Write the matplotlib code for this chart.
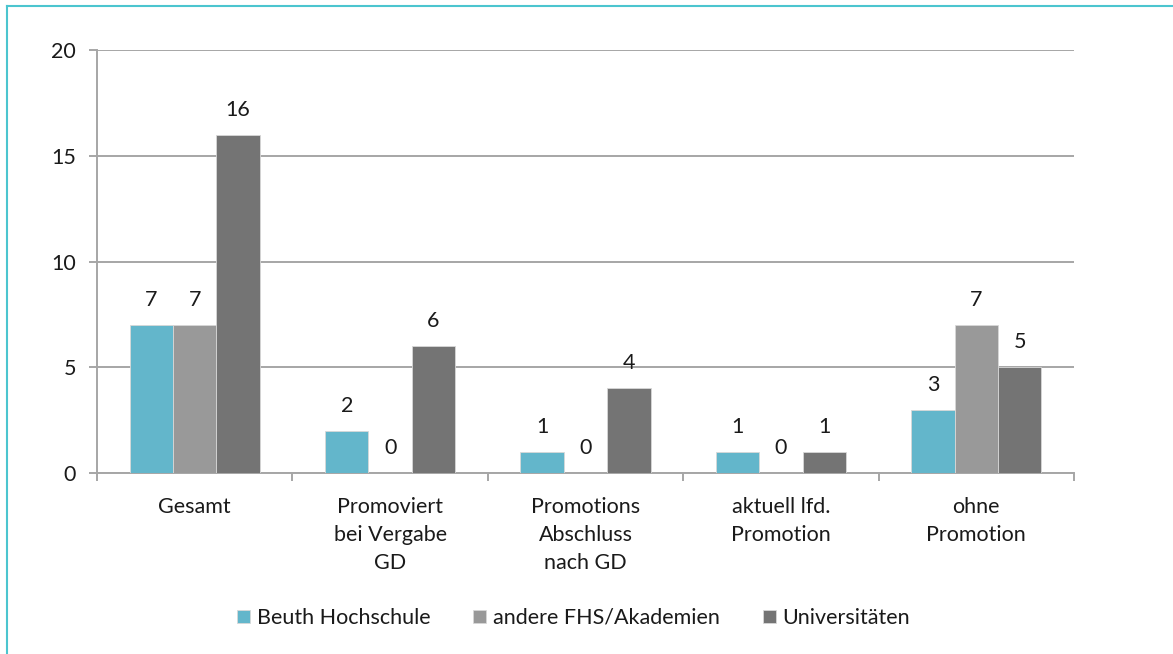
import numpy as np
import matplotlib.pyplot as plt
from matplotlib.lines import Line2D

# data
categories = ['Gesamt', 'Promoviert\nbei Vergabe\nGD', 'Promotions\nAbschluss\nnach GD',
              'aktuell lfd.\nPromotion', 'ohne\nPromotion']
series = ['Beuth Hochschule', 'andere FHS/Akademien', 'Universitäten']
beuth = [7, 2, 1, 1, 3]
andere = [7, 0, 0, 0, 7]
unis = [16, 6, 4, 1, 5]
colors = ['#63b6cb', '#999999', '#747474']

plt.rcParams['font.family'] = ['Lato', 'DejaVu Sans']
fs = 15.5

fig = plt.figure(figsize=(11.73, 6.54), dpi=100)
ax = fig.add_axes([97 / 1173, 1 - 473 / 654, (1074 - 97) / 1173, (473 - 50) / 654])

x = np.arange(len(categories))
w = 0.222
for i, (vals, name, c) in enumerate(zip([beuth, andere, unis], series, colors)):
    pos = x + (i - 1) * w
    ax.bar(pos, vals, width=w, color=c, edgecolor='#d8d8d8', linewidth=0.6, label=name, zorder=3)
    for px, v in zip(pos, vals):
        ax.annotate(str(v), (px, v), xytext=(0, 18), textcoords='offset points',
                    ha='center', va='center', fontsize=fs, color='#1a1a1a')

ax.set_xlim(-0.5, len(categories) - 0.5)
ax.set_ylim(0, 20)
ax.set_yticks([0, 5, 10, 15, 20])
ax.yaxis.grid(True, color='#a6a6a6', linewidth=1.4, zorder=0)
ax.set_axisbelow(True)

for s in ['top', 'right']:
    ax.spines[s].set_visible(False)
ax.spines['left'].set_color('#a6a6a6')
ax.spines['bottom'].set_color('#a6a6a6')
ax.spines['left'].set_linewidth(1.4)
ax.spines['bottom'].set_linewidth(1.4)

ax.set_xticks(x)
ax.set_xticklabels(categories, fontsize=fs, color='#1a1a1a', linespacing=1.5)
ax.tick_params(axis='x', length=0, pad=17)
ax.set_xticks(np.arange(-0.5, len(categories)), minor=True)
ax.tick_params(axis='x', which='minor', length=6, width=1.4, color='#a6a6a6')
ax.tick_params(axis='y', length=6, width=1.4, color='#a6a6a6', labelsize=fs,
               labelcolor='#1a1a1a', pad=9)

fig.legend(loc='center', bbox_to_anchor=(0.489, 1 - 618 / 654), ncol=3, frameon=False,
           fontsize=fs, handlelength=0.6, handleheight=0.6, handletextpad=0.3,
           columnspacing=2.0, labelcolor='#1a1a1a')

# teal frame lines (left and top)
fig.add_artist(Line2D([7 / 1173, 7 / 1173], [0, 1 - 6 / 654], color='#4cc5cf', lw=1.5))
fig.add_artist(Line2D([7 / 1173, 1], [1 - 6 / 654, 1 - 6 / 654], color='#4cc5cf', lw=1.5))

fig.savefig('out.png', dpi=100)
